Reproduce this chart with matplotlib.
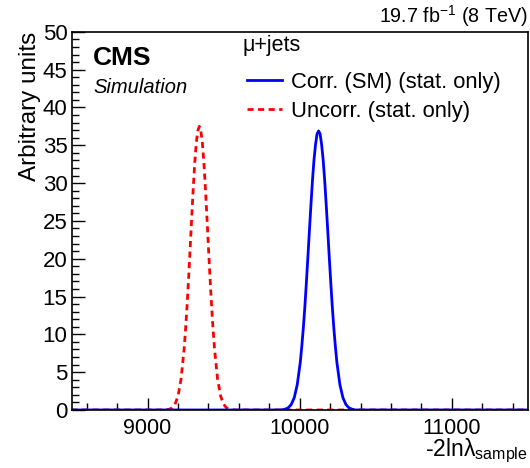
import matplotlib
matplotlib.use("Agg")
import matplotlib.pyplot as plt
from matplotlib.ticker import MultipleLocator

plt.rcParams['font.family'] = ['Liberation Sans', 'DejaVu Sans']
plt.rcParams['mathtext.fontset'] = 'custom'
plt.rcParams['mathtext.rm'] = 'Liberation Sans'
plt.rcParams['mathtext.it'] = 'Liberation Sans:italic'

# Uncorrelated (stat. only) - red dashed
x_uncorr = [8500, 9100, 9120, 9140, 9160, 9180, 9200, 9220, 9240, 9250, 9260, 9270, 9280,
            9290, 9300, 9310, 9320, 9330, 9340, 9350, 9360, 9370, 9380, 9390, 9400,
            9410, 9420, 9430, 9440, 9460, 9480, 9500, 9520, 9540, 9560, 11500]
y_uncorr = [0.0, 0.0, 0.03, 0.08, 0.26, 0.73, 1.84, 4.09, 8.06, 10.8, 14.0, 17.6, 21.5,
            25.5, 29.3, 32.7, 35.3, 36.9, 37.5, 36.9, 35.3, 32.7, 29.3, 25.5, 21.5,
            17.6, 14.0, 10.8, 8.06, 4.09, 1.84, 0.73, 0.26, 0.08, 0.0, 0.0]

# Correlated SM (stat. only) - blue solid
x_corr = [8500, 9864, 9884, 9904, 9924, 9944, 9964, 9984, 10004, 10014, 10024, 10034,
          10044, 10054, 10064, 10074, 10084, 10094, 10104, 10114, 10124, 10134, 10144,
          10154, 10164, 10174, 10184, 10194, 10204, 10214, 10224, 10234, 10244, 10264,
          10284, 10304, 10324, 10344, 10364, 11500]
y_corr = [0.0, 0.0, 0.03, 0.10, 0.28, 0.71, 1.62, 3.37, 6.36, 8.5, 10.9, 13.7,
          16.9, 20.3, 23.8, 27.2, 30.4, 33.1, 35.1, 36.5, 36.9, 36.5, 35.1,
          33.1, 30.4, 27.2, 23.8, 20.3, 16.9, 13.7, 10.9, 8.5, 6.36, 3.37,
          1.62, 0.71, 0.28, 0.10, 0.0, 0.0]

fig = plt.figure(figsize=(5.30, 4.68), dpi=100)
ax = fig.add_axes([0.135, 0.124, 0.861, 0.808])

ax.plot(x_uncorr, y_uncorr, color='#ff0000', lw=2.0, ls=(0, (2.2, 1.6)),
        label='Uncorr. (stat. only)')
ax.plot(x_corr, y_corr, color='#0000ff', lw=2.0, label='Corr. (SM) (stat. only)')

ax.set_xlim(8500, 11500)
ax.set_ylim(0, 50)
ax.xaxis.set_major_locator(MultipleLocator(1000))
ax.xaxis.set_minor_locator(MultipleLocator(200))
ax.yaxis.set_major_locator(MultipleLocator(5))
ax.yaxis.set_minor_locator(MultipleLocator(1))
ax.tick_params(which='both', direction='in', top=False, right=False,
               labelsize=16, width=1.0)
ax.tick_params(axis='x', which='major', labelsize=15.5, pad=6)
ax.tick_params(which='major', length=9)
ax.tick_params(which='minor', length=5)
ax.tick_params(axis='y', which='major', pad=3)
for s in ax.spines.values():
    s.set_linewidth(1.2)

ax.set_ylabel('Arbitrary units', fontsize=17.5, loc='top', labelpad=1)
ax.set_xlabel(r'-2lnλ$_{\mathrm{sample}}$', fontsize=16.5, loc='right', labelpad=-2)

ax.text(0.047, 0.931, 'CMS', transform=ax.transAxes, fontsize=19, fontweight='bold',
        va='center', ha='left')
ax.text(0.047, 0.852, 'Simulation', transform=ax.transAxes, fontsize=14.5, style='italic',
        va='center', ha='left')

fig.text(0.996, 0.965, r'19.7 fb$^{-1}$ (8 TeV)', fontsize=14.2, ha='right', va='center')

ax.text(0.375, 0.963, 'μ+jets', transform=ax.transAxes, fontsize=15.5,
        va='center', ha='left')
handles, labels = ax.get_legend_handles_labels()
leg = ax.legend([handles[1], handles[0]], [labels[1], labels[0]],
                loc='upper left', bbox_to_anchor=(0.35, 0.935), frameon=False,
                fontsize=15.8, handlelength=1.6, handletextpad=0.4, labelspacing=0.38,
                borderpad=0.2)

fig.savefig('out.png', dpi=100)
